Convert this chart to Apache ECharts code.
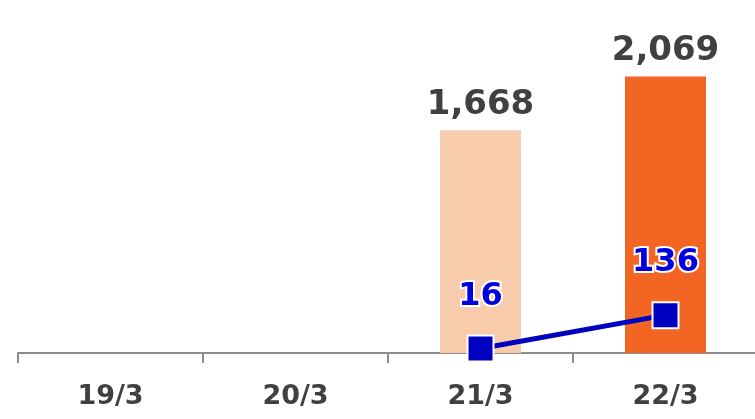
<!DOCTYPE html>
<html>
<head>
<meta charset="utf-8">
<script src="https://cdn.jsdelivr.net/npm/echarts@6/dist/echarts.min.js"></script>
<style>
  html, body { margin: 0; padding: 0; background: #fff; overflow: hidden; }
  #chart { width: 758px; height: 419px; }
</style>
</head>
<body>
<div id="chart"></div>
<script>
// categories and values
const categories = ['19/3', '20/3', '21/3', '22/3'];
const barValues = ['-', '-', 1668, 2069];
const barColors = ['#F7CBAC', '#F7CBAC', '#F7CBAC', '#F26522'];
const lineValues = ['-', '-', 16, 136];

const chart = echarts.init(document.getElementById('chart'));

const option = {
    animation: false,
    grid: { left: 18, right: 0, top: 19, bottom: 66 },
    xAxis: {
        type: 'category',
        data: categories,
        axisLine: { lineStyle: { color: '#8c8c8c', width: 2 } },
        axisTick: { show: true, length: 10, lineStyle: { color: '#8c8c8c', width: 2 } },
        axisLabel: {
            color: '#404040', fontSize: 27, fontWeight: 'bold',
            fontFamily: 'DejaVu Sans', margin: 30
        }
    },
    yAxis: [
        { type: 'value', min: 0, max: 2500, show: false },
        { type: 'value', min: 0, max: 1200, show: false }
    ],
    series: [
        {
            name: 'bar',
            type: 'bar',
            barWidth: 81,
            data: barValues.map((v, i) => ({ value: v, itemStyle: { color: barColors[i] } })),
            label: {
                show: true,
                position: 'top',
                distance: 8,
                color: '#404040',
                fontSize: 34,
                fontWeight: 'bold',
                fontFamily: 'DejaVu Sans',
                formatter: p => p.value.toLocaleString('en-US')
            }
        },
        {
            name: 'line',
            type: 'line',
            yAxisIndex: 1,
            data: lineValues,
            symbol: 'rect',
            symbolSize: 26,
            lineStyle: { color: '#0000C0', width: 5 },
            itemStyle: { color: '#0000C0', borderColor: '#fff', borderWidth: 2 },
            label: {
                show: true,
                position: 'top',
                distance: 22,
                color: '#0000E0',
                fontSize: 32,
                fontWeight: 'bold',
                fontFamily: 'DejaVu Sans',
                textBorderColor: '#fff',
                textBorderWidth: 4
            }
        }
    ]
};

chart.setOption(option);
</script>
</body>
</html>
